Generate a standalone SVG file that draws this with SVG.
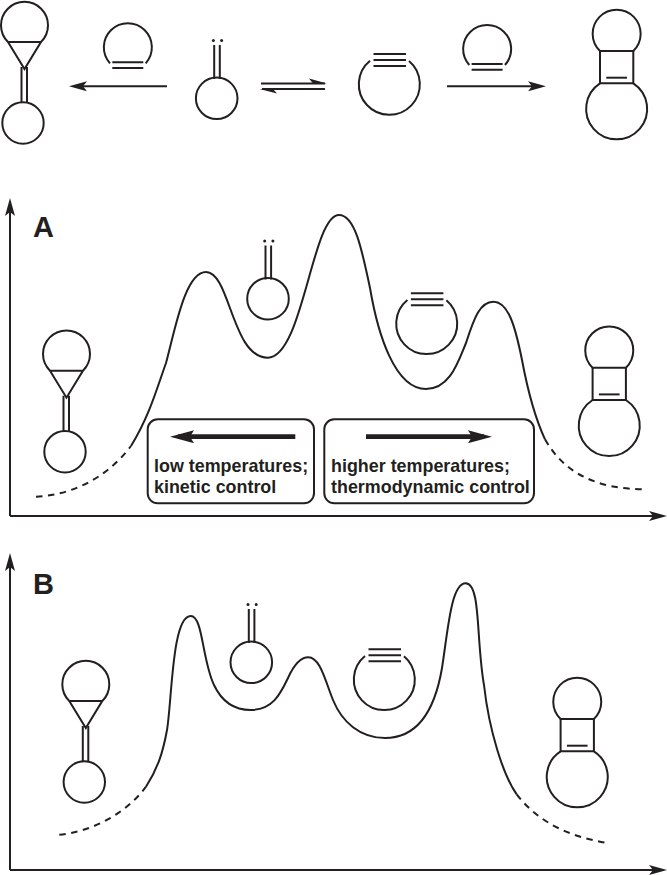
<svg xmlns="http://www.w3.org/2000/svg" width="667" height="875" viewBox="0 0 667 875">
<style>
.s{fill:none;stroke:#231f20;stroke-width:2}
.c{fill:none;stroke:#231f20;stroke-width:2}
.d{fill:none;stroke:#231f20;stroke-width:2;stroke-dasharray:6.5 5.5}
.t{fill:#231f20;font-family:"Liberation Sans",Arial,sans-serif;font-weight:700;font-size:17.9px}
.l{fill:#231f20;font-family:"Liberation Sans",Arial,sans-serif;font-weight:700;font-size:29px}
.b{fill:#fff;stroke:#231f20;stroke-width:2}
.f{fill:#231f20}
</style>
<defs>
<marker id="head" markerUnits="userSpaceOnUse" markerWidth="18" markerHeight="10" viewBox="0 0 18 10" refX="12" refY="5" orient="auto"><path class="f" d="M0,0L18,5L0,10L4,5z"/></marker>
<marker id="thick" markerUnits="userSpaceOnUse" markerWidth="24" markerHeight="13" viewBox="0 0 24 13" refX="16" refY="6.5" orient="auto"><path class="f" d="M0,0L24,6.5L0,13L4,6.5z"/></marker>
<g id="cyclopropene" class="s">
<path d="M8,42A23.5,23.5 0 1 1 41,42L24.5,69L8,42H41"/>
<path d="M21.5,67V103M27,67V103"/>
<circle cx="23" cy="123" r="20.7"/>
</g>
<g id="carbene" class="s">
<path d="M214.2,45V79M219.8,45V79"/>
<circle cx="216.7" cy="98.3" r="20.8"/>
<circle class="f" cx="213.4" cy="40.5" r="1.5" stroke="none"/>
<circle class="f" cx="221.6" cy="40.5" r="1.5" stroke="none"/>
</g>
<g id="alkyne" class="s">
<path d="M370,60.7A30.5,30.5 0 1 0 409,61"/>
<path d="M373.5,54H406M373.5,60H406M373.5,66H406"/>
</g>
<g id="cyclobutene" class="s">
<path d="M600,51A24,24 0 1 1 633.3,51Z"/>
<path d="M600,51V83.3H633.3V51"/>
<path d="M600,83.3A30.5,30.5 0 1 0 633.3,83.3"/>
<path d="M606.3,77.7H627"/>
</g>
<g id="alkene" class="s">
<path d="M110,63.3A24,24 0 1 1 145.7,63.3"/>
<path d="M112.3,62.3H143.3M112.3,68H143.3"/>
</g>
</defs>
<g id="scheme-cyclopropene"><use href="#cyclopropene"/></g>
<g id="scheme-carbene"><use href="#carbene"/></g>
<g id="scheme-alkyne"><use href="#alkyne"/></g>
<g id="scheme-cyclobutene"><use href="#cyclobutene"/></g>
<g id="scheme-alkene-left"><use href="#alkene"/></g>
<g id="scheme-alkene-right"><use href="#alkene" transform="translate(359.3,1.7)"/></g>
<g id="connectors">
<path class="s" d="M167,86.3H75" marker-end="url(#head)"/>
<path class="s" d="M447,86.3H540" marker-end="url(#head)"/>
<path class="s" d="M261,83.5H325"/>
<path class="f" d="M327,83.5L309,78.5L313,83.5Z"/>
<path class="s" d="M325,89H262"/>
<path class="f" d="M259.5,89L277,93.5L273,89Z"/>
<path class="s" d="M10,516V204" marker-end="url(#head)"/>
<path class="s" d="M10,516H661" marker-end="url(#head)"/>
<path class="s" d="M10,870V559" marker-end="url(#head)"/>
<path class="s" d="M10,870H661" marker-end="url(#head)"/>
<path class="c" d="M131,446C150,415 158,385 166,363C175,330 185,272 206,272C230,272 232,357.7 267.7,357.7C303,357.7 312,215 339,215C355,215 362,250 370,288C378,335 395,389 426,389C450,389 458,362 466,343C474,318 480,301.7 493.3,301.7C508,301.7 515,325 522,360C528,392 536,420 545,439.3"/>
<path class="d" d="M36,496.7C70,495 105,480 131,446"/>
<path class="d" d="M545,439.3C565,475 600,489 643.3,489.3"/>
<path class="c" d="M146,786.7C158,768 163,752 167,730C172,700 172,616 190.7,616C203,616 202,660 214,685C222,702 234,710 250.7,710C272,710 280,695 288,678C293,667 300,657.3 308.3,657.3C320,657.3 325,680 333,700C342,722 360,738 385,738C415,738 434,715 442,668C448,630 451,583.3 465.7,583.3C481,583.3 476,640 484,685C489,730 503,775 516.7,794.3"/>
<path class="d" d="M59.3,834.7C90,832 125,815 146,786.7"/>
<path class="d" d="M516.7,794.3C540,825 575,838 609.3,843.3"/>
</g>
<g id="label-A"><text class="l" x="33" y="237">A</text></g>
<g id="label-B"><text class="l" x="33" y="594">B</text></g>
<g id="a-cyclopropene"><use href="#cyclopropene" transform="translate(42,328.7)"/></g>
<g id="a-carbene"><use href="#carbene" transform="translate(51.3,200.4)"/></g>
<g id="a-alkyne"><use href="#alkyne" transform="translate(37.4,239.3)"/></g>
<g id="a-cyclobutene"><use href="#cyclobutene" transform="translate(-7.4,316.7)"/></g>
<g id="box-kinetic">
<rect class="b" x="147.7" y="419.3" width="166.3" height="84" rx="10"/>
<path stroke="#231f20" stroke-width="4.8" fill="none" d="M295.3,436.7H178" marker-end="url(#thick)"/>
<text class="t" x="154" y="471.7">low temperatures;</text>
<text class="t" x="154" y="492.7">kinetic control</text>
</g>
<g id="box-thermo">
<rect class="b" x="324.3" y="419.3" width="209.7" height="84" rx="10"/>
<path stroke="#231f20" stroke-width="4.8" fill="none" d="M366,436.7H484" marker-end="url(#thick)"/>
<text class="t" x="331" y="471.7">higher temperatures;</text>
<text class="t" x="331" y="492.7">thermodynamic control</text>
</g>
<g id="b-cyclopropene"><use href="#cyclopropene" transform="translate(61.3,659)"/></g>
<g id="b-carbene"><use href="#carbene" transform="translate(34.6,564)"/></g>
<g id="b-alkyne"><use href="#alkyne" transform="translate(-5,595.3)"/></g>
<g id="b-cyclobutene"><use href="#cyclobutene" transform="translate(-39.4,668)"/></g>
</svg>
